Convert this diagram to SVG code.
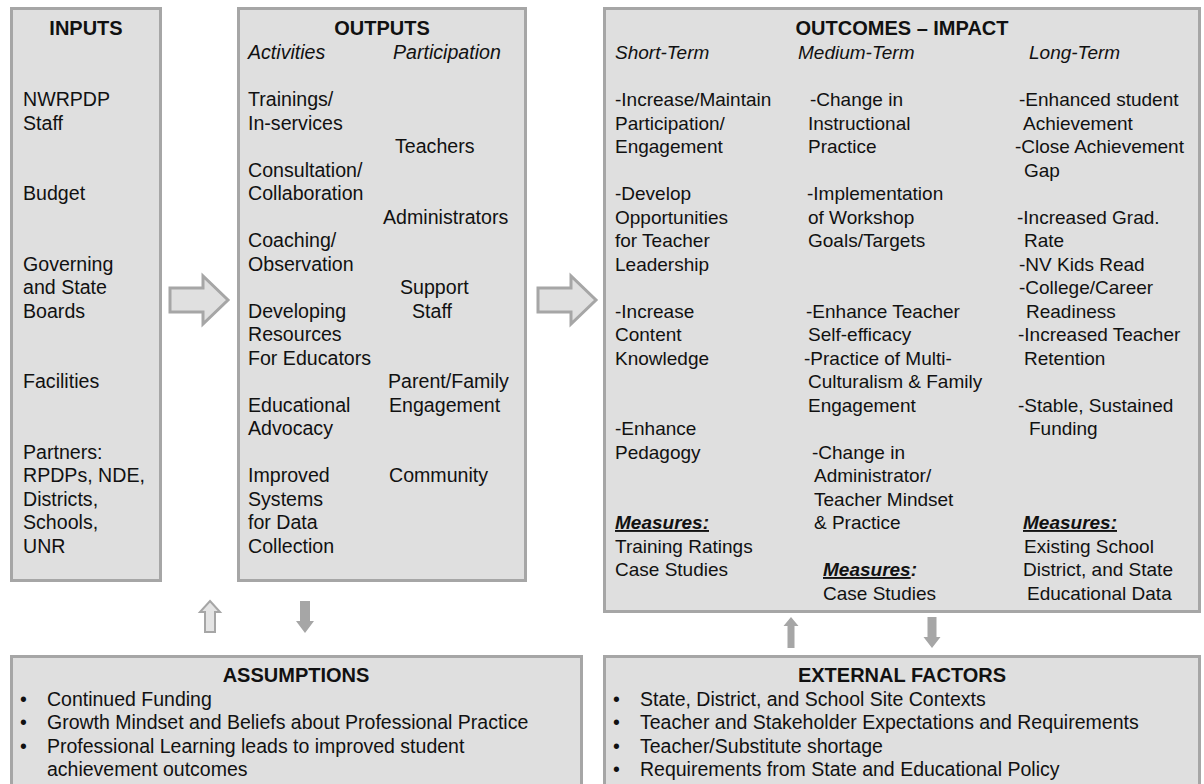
<svg xmlns="http://www.w3.org/2000/svg" width="1204" height="784" viewBox="0 0 1204 784">
<style>
.box{fill:#dfdfdf;stroke:#a6a6a6;stroke-width:3}
.t{font-family:"Liberation Sans",Arial,sans-serif;font-size:19.6px;fill:#111}
.o{font-size:19px}
.b{font-size:19.5px}
.h{font-weight:bold;font-size:20px}
.i{font-style:italic}
.m{font-weight:bold;font-style:italic;text-decoration:underline}
.mb{font-weight:bold;font-style:italic}
.big{fill:#e0e0e0;stroke:#a6a6a6;stroke-width:3;stroke-linejoin:miter}
.hol{fill:#e4e4e4;stroke:#a6a6a6;stroke-width:2}
.sol{fill:#a6a6a6}
</style>
<rect width="1204" height="784" fill="#ffffff"/>

<g id="inputs">
<rect class="box" x="11.5" y="8.5" width="149" height="572"/>
<text class="t h" x="86" y="34.5" text-anchor="middle">INPUTS</text>
<text class="t" x="23" y="106">NWRPDP<tspan x="23" dy="23.5">Staff</tspan></text>
<text class="t" x="23" y="200">Budget</text>
<text class="t" x="23" y="270.5">Governing<tspan x="23" dy="23.5">and State</tspan><tspan x="23" dy="23.5">Boards</tspan></text>
<text class="t" x="23" y="388">Facilities</text>
<text class="t" x="23" y="458.5">Partners:<tspan x="23" dy="23.5">RPDPs, NDE,</tspan><tspan x="23" dy="23.5">Districts,</tspan><tspan x="23" dy="23.5">Schools,</tspan><tspan x="23" dy="23.5">UNR</tspan></text>
</g>

<g id="outputs">
<rect class="box" x="238.5" y="8.5" width="287" height="572"/>
<text class="t h" x="382" y="34.5" text-anchor="middle">OUTPUTS</text>
<text class="t i" x="248" y="59">Activities</text>
<text class="t i" x="393" y="59">Participation</text>
<text class="t" x="248" y="106">Trainings/<tspan x="248" dy="23.5">In-services</tspan></text>
<text class="t" x="248" y="176.5">Consultation/<tspan x="248" dy="23.5">Collaboration</tspan></text>
<text class="t" x="248" y="247">Coaching/<tspan x="248" dy="23.5">Observation</tspan></text>
<text class="t" x="248" y="317.5">Developing<tspan x="248" dy="23.5">Resources</tspan><tspan x="248" dy="23.5">For Educators</tspan></text>
<text class="t" x="248" y="411.5">Educational<tspan x="248" dy="23.5">Advocacy</tspan></text>
<text class="t" x="248" y="482">Improved<tspan x="248" dy="23.5">Systems</tspan><tspan x="248" dy="23.5">for Data</tspan><tspan x="248" dy="23.5">Collection</tspan></text>
<text class="t" x="395" y="153">Teachers</text>
<text class="t" x="383" y="223.5">Administrators</text>
<text class="t" x="400" y="294">Support<tspan x="412" dy="23.5">Staff</tspan></text>
<text class="t" x="388" y="388">Parent/Family<tspan x="389" dy="23.5">Engagement</tspan></text>
<text class="t" x="389" y="482">Community</text>
</g>

<g id="outcomes">
<rect class="box" x="604.5" y="8.5" width="595" height="603"/>
<text class="t h" x="902" y="34.5" text-anchor="middle">OUTCOMES – IMPACT</text>
<text class="t o i" x="615" y="59">Short-Term</text>
<text class="t o i" x="798" y="59">Medium-Term</text>
<text class="t o i" x="1029" y="59">Long-Term</text>

<text class="t o" x="615" y="106">-Increase/Maintain<tspan x="615" dy="23.5">Participation/</tspan><tspan x="615" dy="23.5">Engagement</tspan></text>
<text class="t o" x="615" y="200">-Develop<tspan x="615" dy="23.5">Opportunities</tspan><tspan x="615" dy="23.5">for Teacher</tspan><tspan x="615" dy="23.5">Leadership</tspan></text>
<text class="t o" x="615" y="317.5">-Increase<tspan x="615" dy="23.5">Content</tspan><tspan x="615" dy="23.5">Knowledge</tspan></text>
<text class="t o" x="615" y="435">-Enhance<tspan x="615" dy="23.5">Pedagogy</tspan></text>
<text class="t o" x="615" y="529"><tspan class="m">Measures:</tspan><tspan x="615" dy="23.5">Training Ratings</tspan><tspan x="615" dy="23.5">Case Studies</tspan></text>

<text class="t o" x="810" y="106">-Change in<tspan x="808" dy="23.5">Instructional</tspan><tspan x="808" dy="23.5">Practice</tspan></text>
<text class="t o" x="807" y="200">-Implementation<tspan x="808" dy="23.5">of Workshop</tspan><tspan x="808" dy="23.5">Goals/Targets</tspan></text>
<text class="t o" x="806" y="317.5">-Enhance Teacher<tspan x="808" dy="23.5">Self-efficacy</tspan><tspan x="804" dy="23.5">-Practice of Multi-</tspan><tspan x="808" dy="23.5">Culturalism &amp; Family</tspan><tspan x="808" dy="23.5">Engagement</tspan></text>
<text class="t o" x="812" y="458.5">-Change in<tspan x="814" dy="23.5">Administrator/</tspan><tspan x="814" dy="23.5">Teacher Mindset</tspan><tspan x="814" dy="23.5">&amp; Practice</tspan></text>
<text class="t o" x="823" y="576"><tspan class="m">Measures</tspan><tspan class="mb">:</tspan><tspan x="823" dy="23.5">Case Studies</tspan></text>

<text class="t o" x="1019" y="106">-Enhanced student<tspan x="1023" dy="23.5">Achievement</tspan><tspan x="1015" dy="23.5">-Close Achievement</tspan><tspan x="1024" dy="23.5">Gap</tspan></text>
<text class="t o" x="1017" y="223.5">-Increased Grad.<tspan x="1024" dy="23.5">Rate</tspan><tspan x="1019" dy="23.5">-NV Kids Read</tspan><tspan x="1019" dy="23.5">-College/Career</tspan><tspan x="1026" dy="23.5">Readiness</tspan><tspan x="1018" dy="23.5">-Increased Teacher</tspan><tspan x="1024" dy="23.5">Retention</tspan></text>
<text class="t o" x="1018" y="411.5">-Stable, Sustained<tspan x="1029" dy="23.5">Funding</tspan></text>
<text class="t o" x="1023" y="529"><tspan class="m">Measures:</tspan><tspan x="1024" dy="23.5">Existing School</tspan><tspan x="1023" dy="23.5">District, and State</tspan><tspan x="1027" dy="23.5">Educational Data</tspan></text>
</g>

<g id="assumptions">
<rect class="box" x="11.5" y="656.5" width="570" height="140"/>
<text class="t h" x="296" y="682" text-anchor="middle">ASSUMPTIONS</text>
<text class="t b" x="20" y="705.5">•</text>
<text class="t b" x="47" y="705.5">Continued Funding</text>
<text class="t b" x="20" y="729">•</text>
<text class="t b" x="47" y="729">Growth Mindset and Beliefs about Professional Practice</text>
<text class="t b" x="20" y="752.5">•</text>
<text class="t b" x="47" y="752.5">Professional Learning leads to improved student<tspan x="47" dy="23.5">achievement  outcomes</tspan></text>
</g>

<g id="external-factors">
<rect class="box" x="604.5" y="656.5" width="595" height="140"/>
<text class="t h" x="902" y="682" text-anchor="middle">EXTERNAL FACTORS</text>
<text class="t b" x="613" y="705.5">•</text>
<text class="t b" x="640" y="705.5">State, District, and School Site Contexts</text>
<text class="t b" x="613" y="729">•</text>
<text class="t b" x="640" y="729">Teacher and Stakeholder Expectations and Requirements</text>
<text class="t b" x="613" y="752.5">•</text>
<text class="t b" x="640" y="752.5">Teacher/Substitute shortage</text>
<text class="t b" x="613" y="776">•</text>
<text class="t b" x="640" y="776">Requirements from State and Educational Policy</text>
</g>

<g id="connectors">
<polygon class="big" points="170,288 203,288 203,276 228,300 203,324 203,312 170,312"/>
<polygon class="big" points="538,288 571,288 571,276 596,300 571,324 571,312 538,312"/>
<polygon class="hol" points="210,601 220,612 215,612 215,632 205,632 205,612 200,612"/>
<polygon class="sol" points="300,601 310,601 310,621 314,621 305,633 296,621 300,621"/>
<polygon class="sol" points="791,617 798.5,626 794.5,626 794.5,648 787.5,648 787.5,626 783.5,626"/>
<polygon class="sol" points="927.5,617 936.5,617 936.5,637 940.5,637 932,648 923.5,637 927.5,637"/>
</g>
</svg>
